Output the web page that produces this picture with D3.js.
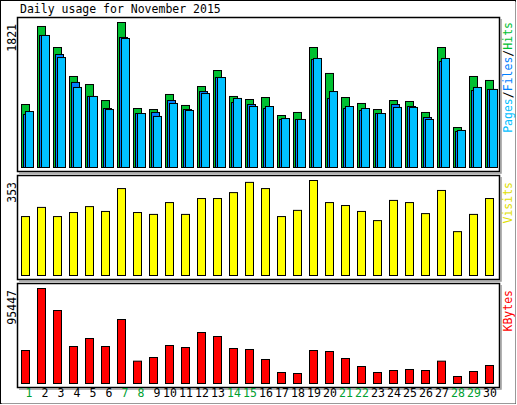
<!DOCTYPE html>
<html><head><meta charset="utf-8">
<script src="https://cdn.jsdelivr.net/npm/d3@7"></script>
<style>body{margin:0;background:#fff}svg{display:block}</style>
</head><body><svg id="c" width="517" height="405"></svg>
<script>
const days = d3.range(1,31);
const weekend = [1,7,8,14,15,21,22,28,29];
const hits = [791,1771,1507,1143,1042,841,1821,741,728,917,779,1017,1218,892,854,879,653,691,1507,1181,879,804,728,841,829,691,1507,502,1143,1093];
const files = [666,1658,1419,1068,892,741,1633,678,691,841,728,954,1130,816,791,741,603,603,1356,867,741,716,678,791,766,628,1331,452,967,980];
const pages = [703,1658,1381,1005,892,728,1620,678,641,804,716,929,1130,867,766,766,615,603,1369,954,766,741,678,754,754,603,1369,465,1005,980];
const visits = [219,253,219,234,256,238,323,234,227,271,227,286,286,308,346,323,219,242,353,271,260,238,204,279,271,230,316,163,227,286];
const kbytes = [33155,95447,73343,37174,45212,37174,64301,22438,26122,38179,36169,51240,47221,35164,34160,24113,11052,10047,33155,32150,25118,17080,11052,13061,14066,13061,22438,7033,12056,18085];
const title = "Daily usage for November 2015";

const svg = d3.select("#c");
const F = "'DejaVu Sans Mono', monospace";
const x = d3.scaleBand().domain(days).range([17,497]).paddingInner(0);
// outer border
svg.append("rect").attr("x",0.5).attr("y",0.5).attr("width",515).attr("height",403).attr("fill","#fff").attr("stroke","#000");
svg.append("path").attr("d","M1.5,403.5H515.5V1.5").attr("fill","none").attr("stroke","#999");
svg.append("text").attr("x",20).attr("y",13).attr("font-family",F).attr("font-size",11.5).text(title);

function frame(y0,y1){
  svg.append("rect").attr("x",17.5).attr("y",y0+0.5).attr("width",482).attr("height",y1-y0).attr("fill","#fff").attr("stroke","#000").attr("stroke-width",1.5);
  svg.append("path").attr("d",`M19,${y1+2}H501V${y0+2}`).attr("fill","none").attr("stroke","#999").attr("stroke-width",1.5);
}
frame(17,171); frame(175,279); frame(283,387);

function bars(data,y,color,off){
  svg.append("g").selectAll("rect").data(data).join("rect")
    .attr("x",(d,i)=>x(days[i])+4+off+0.5).attr("y",d=>y(d)+0.5)
    .attr("width",8).attr("height",d=>y(0)-y(d))
    .attr("fill",color).attr("stroke","#000").attr("stroke-width",1);
}
const y1 = d3.scaleLinear().domain([0,d3.max(hits)]).range([167,22]);
bars(hits,y1,"#00c030",0); bars(files,y1,"#0080ff",2); bars(pages,y1,"#00c0ff",4);
const y2 = d3.scaleLinear().domain([0,d3.max(visits)]).range([275,180]);
bars(visits,y2,"#ffff00",0);
const y3 = d3.scaleLinear().domain([0,d3.max(kbytes)]).range([383,288]);
bars(kbytes,y3,"#ff0000",0);

function vlabel(xp,yp,parts,anchor){
  const t=svg.append("text").attr("transform",`translate(${xp},${yp}) rotate(-90)`).attr("font-family",F).attr("font-size",11.5).attr("text-anchor",anchor);
  parts.forEach(p=>t.append("tspan").attr("fill",p[1]).text(p[0]));
}
vlabel(16,24,[[String(d3.max(hits)),"#000"]],"end");
vlabel(16,182,[[String(d3.max(visits)),"#000"]],"end");
vlabel(16,290,[[String(d3.max(kbytes)),"#000"]],"end");
vlabel(512,22,[["Pages","#00c0ff"],["/","#000"],["Files","#0080ff"],["/","#000"],["Hits","#00c030"]],"end");
vlabel(512,182,[["Visits","#e0e000"]],"end");
vlabel(512,290,[["KBytes","#ff0000"]],"end");

svg.append("g").selectAll("text").data(days).join("text")
  .attr("x",d=>x(d)+9+(d<10?3:0)).attr("y",397).attr("text-anchor","middle")
  .attr("font-family",F).attr("font-size",11.5)
  .attr("fill",d=>weekend.includes(d)?"#00a030":"#000").text(d=>d);
</script></body></html>
